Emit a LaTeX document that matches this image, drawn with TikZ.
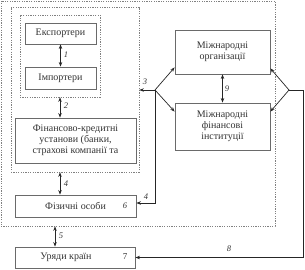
\documentclass[tikz,border=0pt]{standalone}
\usepackage{fontspec}
\setmainfont{Liberation Serif}
\usetikzlibrary{arrows.meta,calc}
\definecolor{txtc}{HTML}{333333}
\definecolor{boxc}{HTML}{6a6a6a}
\definecolor{grpc}{HTML}{808080}
\begin{document}
\begin{tikzpicture}[x=1pt,y=-1pt,
  box/.style={draw=boxc,line width=0.9pt,fill=white,inner sep=1pt,font=\fontsize{10}{11}\selectfont,text=txtc,align=center},
  txt/.style={inner sep=0pt,font=\fontsize{10}{11}\selectfont,text=txtc},
  grp/.style={draw=grpc,line width=0.7pt,dash pattern=on 1.2pt off 1.2pt},
  conn/.style={line width=0.7pt,black!85},
  arr/.style={conn,-{Stealth[length=4.5pt,width=3.5pt]}},
  darr/.style={conn,{Stealth[length=4.5pt,width=3.5pt]}-{Stealth[length=4.5pt,width=3.5pt]}},
  num/.style={font=\fontsize{8.5}{8.5}\selectfont\itshape,text=txtc,inner sep=0.5pt},
  numup/.style={font=\fontsize{9}{9}\selectfont,text=txtc,inner sep=0.5pt}]
\useasboundingbox (0,0) rectangle (305,270);
% dotted groups
\node[grp,minimum width=274,minimum height=225] (outer) at (138,113.5) {};
\node[grp,minimum width=128,minimum height=165] (g2) at (75,89.5) {};
\node[grp,minimum width=80,minimum height=82] (g1) at (60,56) {};
% boxes
\node[box,minimum width=71,minimum height=21] (exp) at (60.5,33.5) {Експортери};
\node[box,minimum width=71,minimum height=22] (imp) at (60.5,78) {Імпортери};
\node[box,minimum width=121,minimum height=45] (fin) at (75.5,140.5) {Фінансово-кредитні\\установи (банки,\\страхові компанії та};
\node[box,minimum width=121,minimum height=22] (fiz) at (75.5,206) {Фізичні особи};
\node[box,minimum width=120,minimum height=21] (ury) at (75,257.5) {};
\node[txt] (uryt) at (66,257.5) {Уряди країн};
\node[box,minimum width=95,minimum height=44] (org) at (222.5,52) {Міжнародні\\організації};
\node[box,minimum width=95,minimum height=47] (fii) at (222.5,126.5) {Міжнародні\\фінансові\\інституції};
% numbers in boxes
\node[num] (n6) at (125,206) {6};
\node[numup] (n7) at (125,257) {7};
% junctions and helper points
\coordinate (j1) at (155,90);
\coordinate (j2) at (289,90);
\coordinate (a5) at ($(ury.north)+(-20,0)$);
\coordinate (b5) at (a5 |- outer.south);
% connectors
\draw[darr] (exp.south) -- (imp.north);
\draw[darr] (g1.south) -- (g1.south |- fin.north);
\draw[darr] (g1.south |- g2.south) -- (g1.south |- fiz.north);
\draw[darr] (b5) -- (a5);
\draw[darr] (org.south) -- (fii.north);
\draw[arr] (j1) -- (j1 -| g2.east);
\draw[arr] (j1) -- ($(org.south west)+(0,-7)$);
\draw[arr] (j1) -- ($(fii.north west)+(0,9)$);
\draw[arr] (j1) |- ($(fiz.east)+(0,-3)$);
\draw[arr] (j2) -- ($(org.south east)+(0,-6)$);
\draw[arr] (j2) -- ($(fii.north east)+(0,9)$);
\draw[arr] (j2) -- ++(14,0) |- (ury.east);
% labels
\node[num] (l1) at (66,55) {1};
\node[num] (l2) at (66,106) {2};
\node[num] (l3) at (145,82) {3};
\node[num] (l4a) at (66,184) {4};
\node[num] (l4b) at (146,197) {4};
\node[num] (l5) at (61,236) {5};
\node[num] (l9) at (227,89) {9};
\node[num] (l8) at (229,249) {8};
\end{tikzpicture}
\end{document}
